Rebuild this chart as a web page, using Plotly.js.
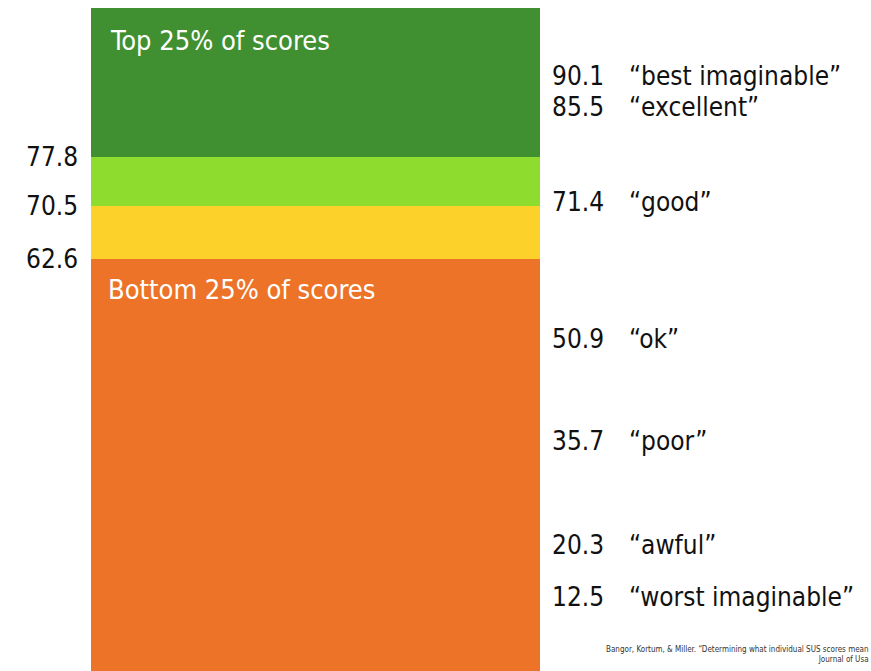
<!DOCTYPE html>
<html>
<head>
<meta charset="utf-8">
<script src="https://cdn.plot.ly/plotly-3.0.1.min.js"></script>
<style>html,body{margin:0;padding:0;background:#fff;}#chart{width:871px;height:671px;}</style>
</head>
<body>
<div id="chart"></div>
<script>
// Bands of SUS scores (lower bound, upper bound)
const bandNames = ["Bottom 25%", "Lower middle", "Upper middle", "Top 25%"];
const bandLower = [0, 62.6, 70.5, 77.8];
const bandUpper = [62.6, 70.5, 77.8, 100];
const bandColors = ["#EC7328", "#FCD22A", "#8EDC2E", "#408F30"];

// Boundary labels on the left
const boundaryValues = [77.8, 70.5, 62.6];

// Adjective ratings on the right
const ratingScores = [90.1, 85.5, 71.4, 50.9, 35.7, 20.3, 12.5];
const ratingWords = ["best imaginable", "excellent", "good", "ok", "poor", "awful", "worst imaginable"];

const FONT = "'DejaVu Sans Condensed', 'DejaVu Sans', sans-serif";

const traces = bandNames.map((n, i) => ({
  type: "bar",
  name: n,
  x: [315.5],
  y: [bandUpper[i] - bandLower[i]],
  base: [bandLower[i]],
  width: [449],
  marker: {color: bandColors[i], line: {width: 0}},
  hoverinfo: "skip",
  showlegend: false
}));

const ann = [];
boundaryValues.forEach(v => ann.push({
  x: 80 / 871, xref: "paper", xanchor: "right",
  y: v, yref: "y", yanchor: "middle",
  text: v.toFixed(1), showarrow: false,
  font: {family: FONT, size: 26, color: "#111"}
}));
ratingScores.forEach((v, i) => {
  ann.push({
    x: 550 / 871, xref: "paper", xanchor: "left",
    y: v, yref: "y", yanchor: "middle", yshift: -2,
    text: v.toFixed(1), showarrow: false,
    font: {family: FONT, size: 26, color: "#111"}
  });
  ann.push({
    x: 627 / 871, xref: "paper", xanchor: "left",
    y: v, yref: "y", yanchor: "middle", yshift: -2,
    text: "\u201C" + ratingWords[i] + "\u201D", showarrow: false,
    font: {family: FONT, size: 26, color: "#111"}
  });
});
ann.push({
  x: 108 / 871, xref: "paper", xanchor: "left",
  y: 1 - 33 / 671, yref: "paper", yanchor: "middle",
  text: "Top 25% of scores", showarrow: false,
  font: {family: FONT, size: 27, color: "#fff"}
});
ann.push({
  x: 106 / 871, xref: "paper", xanchor: "left",
  y: 1 - 285 / 671, yref: "paper", yanchor: "middle",
  text: "Bottom 25% of scores", showarrow: false,
  font: {family: FONT, size: 27, color: "#fff"}
});
ann.push({
  x: 1, xref: "paper", xanchor: "right",
  y: 1 - 654 / 671, yref: "paper", yanchor: "middle",
  align: "right",
  text: "Bangor, Kortum, & Miller. \u201CDetermining what individual SUS scores mean<br>Journal of Usa",
  showarrow: false,
  font: {family: FONT, size: 8, color: "#333"}
});

const layout = {
  width: 871, height: 671,
  margin: {l: 0, r: 0, t: 8, b: 0, pad: 0},
  paper_bgcolor: "#fff", plot_bgcolor: "#fff",
  barmode: "overlay",
  xaxis: {range: [0, 871], visible: false, fixedrange: true},
  yaxis: {range: [1.2, 100], visible: false, fixedrange: true},
  annotations: ann,
  showlegend: false
};

Plotly.newPlot("chart", traces, layout, {displayModeBar: false, staticPlot: true});
</script>
</body>
</html>
